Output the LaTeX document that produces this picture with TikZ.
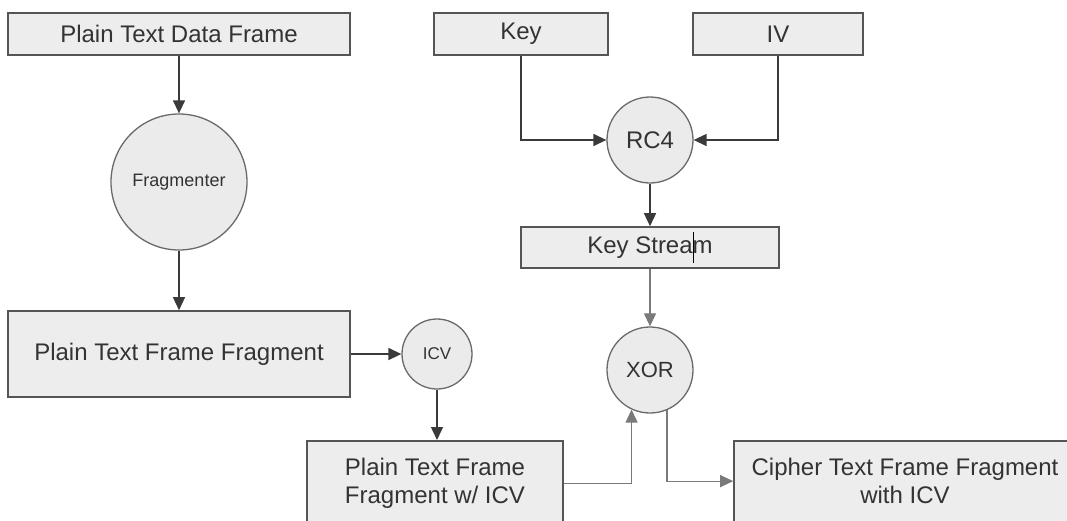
\documentclass[tikz,border=0pt]{standalone}
\usepackage{fontspec}
\setmainfont{Liberation Sans}
\usetikzlibrary{arrows.meta}

\definecolor{ink}{HTML}{333333}
\definecolor{boxfill}{HTML}{EDEDED}
\definecolor{boxedge}{HTML}{555555}
\definecolor{discfill}{HTML}{EBEBEB}
\definecolor{discedge}{HTML}{6A6A6A}
\definecolor{wire}{HTML}{3A3A3A}
\definecolor{palewire}{HTML}{7A7A7A}

\tikzset{
  stagebox/.style={draw=boxedge, fill=boxfill, line width=1.6pt, rectangle,
    text=ink, font=\fontsize{24}{28}\selectfont, inner sep=0pt, align=center},
  proc/.style={draw=discedge, fill=discfill, line width=1.3pt, circle,
    text=ink, inner sep=0pt},
  conn/.style={draw=wire, line width=1.4pt,
    -{Triangle[length=13pt,width=12pt]}},
  paleconn/.style={conn, draw=palewire, line width=1.2pt},
}

\begin{document}
\begin{tikzpicture}[x=1pt,y=-1pt]
\useasboundingbox (0,0) rectangle (1067,520);
\clip (0,0) rectangle (1067,520);
\fill[white] (0,0) rectangle (1067,520);

% fragmenting branch
\node[stagebox, minimum width=342pt, minimum height=42pt] (pdf) at (179,34) {Plain Text Data Frame};
\node[proc, minimum size=136pt, font=\fontsize{18}{20}\selectfont] (frag) at (179,182) {Fragmenter};
\node[stagebox, minimum width=342pt, minimum height=86pt] (ptff) at (179,354) {Plain Text Frame Fragment};
\node[proc, minimum size=70pt, font=\fontsize{17}{20}\selectfont] (icv) at (437,354) {ICV};
\node[stagebox, minimum width=256pt, anchor=north, inner ysep=17.5pt] (icvbox) at (435,440)
  {Plain Text Frame\\Fragment w/ ICV};

% key stream branch
\node[stagebox, minimum width=174pt, minimum height=42pt] (key) at (521,34) {Key};
\node[stagebox, minimum width=170pt, minimum height=42pt] (iv) at (778,34) {IV};
\node[proc, minimum size=86pt, font=\fontsize{24}{28}\selectfont] (rc4) at (650,140) {RC4};
\node[stagebox, minimum width=258pt, minimum height=41pt] (ks) at (650,247.5) {Key Stream};
\node[proc, minimum size=86pt, font=\fontsize{22}{26}\selectfont] (xor) at (650,370) {XOR};
\node[stagebox, minimum width=342pt, anchor=north, inner ysep=17.5pt] (cipher) at (905,440)
  {Cipher Text Frame Fragment\\with ICV};

% text cursor left inside the key stream label
\draw[black, line width=1pt] (693,232) -- (693,263);

% connectors
\draw[conn] (pdf.south) -- (frag.north);
\draw[conn] (frag.south) -- (ptff.north -| frag.south);
\draw[conn] (ptff.east) -- (icv.west);
\draw[conn] (icv.south) -- (icv.south |- icvbox.north);
\draw[conn] (key.south) |- (rc4.west);
\draw[conn] (iv.south) |- (rc4.east);
\draw[conn] (rc4.south) -- (ks.north);
\draw[paleconn] (ks.south) -- (xor.north);
\draw[paleconn] (icvbox.east) -| (xor.245);
\draw[paleconn] (xor.293) |- (cipher.west);
\end{tikzpicture}
\end{document}
